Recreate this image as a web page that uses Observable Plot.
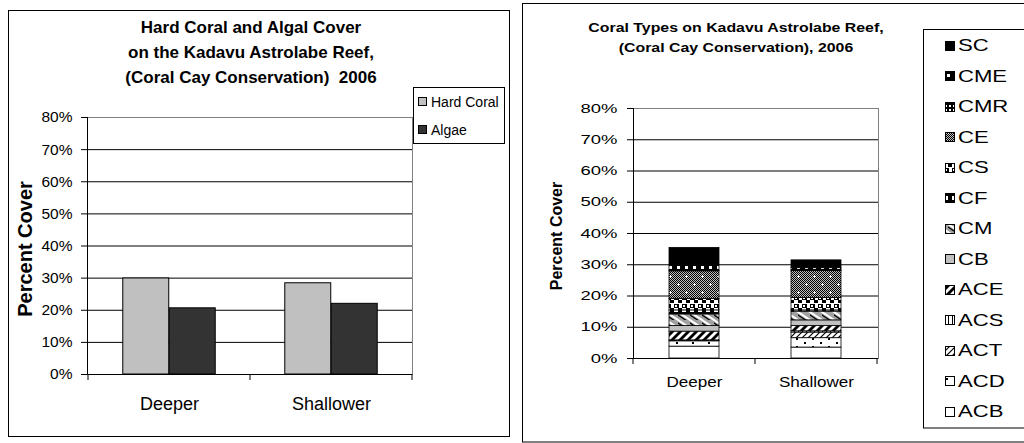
<!DOCTYPE html>
<html><head><meta charset="utf-8">
<script src="https://cdn.jsdelivr.net/npm/d3@7"></script>
<script src="https://cdn.jsdelivr.net/npm/@observablehq/plot@0.6"></script>
<style>
html,body{margin:0;padding:0;background:#fff;overflow:hidden;}
#page{position:relative;width:1024px;height:443px;overflow:hidden;font-family:"Liberation Sans",Arial,sans-serif;}
#page > svg{position:absolute;}
</style></head><body><div id="page"></div>
<script>
// ---------- data ----------
const sites = ["Deeper", "Shallower"];
const coverSeries = ["Hard Coral", "Algae"];
const hardCoral = [29.9, 28.4];
const algae = [20.6, 22.0];

const coralTypes = ["ACB","ACD","ACT","ACS","ACE","CB","CM","CF","CS","CE","CMR","CME","SC"];
const deeperCover    = [3.8, 1.7, 0.2, 0.1, 2.8, 1.8, 3.7, 1.3, 3.7, 8.8, 0.1, 1.9, 5.5];
const shallowerCover = [3.5, 3.0, 1.8, 0.4, 1.7, 1.8, 2.8, 0.4, 4.0, 8.6, 0.1, 0.8, 2.5];
const yTicks = [0, 10, 20, 30, 40, 50, 60, 70, 80];

const leftTitle = ["Hard Coral and Algal Cover", "on the Kadavu Astrolabe Reef,", "(Coral Cay Conservation)  2006"];
const rightTitle = ["Coral Types on Kadavu Astrolabe Reef,", "(Coral Cay Conservation), 2006"];
const yLabel = "Percent Cover";

const FONT = '"Liberation Sans", Arial, sans-serif';
const page = document.getElementById("page");

// ---------- overlay with pattern defs ----------
const ov = d3.create("svg").attr("width", 1024).attr("height", 443)
  .style("left", "0px").style("top", "0px").style("pointer-events", "none")
  .attr("font-family", FONT);
const defs = ov.append("defs");
function pat(id, w, h, draw) {
  const p = defs.append("pattern").attr("id", id).attr("patternUnits", "userSpaceOnUse")
    .attr("width", w).attr("height", h);
  draw(p);
}
const R = (p, x, y, w, h, f) => p.append("rect").attr("x", x).attr("y", y).attr("width", w).attr("height", h).attr("fill", f);
pat("checker2", 2, 2, p => { R(p,0,0,2,2,"#fff"); R(p,0,0,1,1,"#000"); R(p,1,1,1,1,"#000"); });
pat("pat-SC", 4, 4, p => R(p,0,0,4,4,"#000"));
pat("pat-CME", 8, 6, p => { R(p,0,0,8,6,"#000"); R(p,3,2,3,3,"#fff"); });
pat("pat-CMR", 4, 4, p => { R(p,0,0,4,4,"#000"); R(p,1,1,2,2,"#fff"); });
pat("pat-CE", 16, 16, p => { R(p,0,0,16,16,"url(#checker2)"); R(p,0,0,16,16,"rgba(0,0,0,0.25)");
  R(p,4,3,1,3,"#fff"); R(p,3,4,3,1,"#fff"); R(p,12,11,1,3,"#fff"); R(p,11,12,3,1,"#fff"); });
pat("pat-CS", 8, 8, p => { R(p,0,0,8,8,"#fff"); R(p,0,0,5,4,"#000"); R(p,4,4,4,3,"#000"); R(p,1,1,2,2,"#fff"); });
pat("pat-CF", 8, 8, p => { R(p,0,0,8,8,"#fff"); R(p,0,0,8,4,"#000"); R(p,4,4,4,4,"#000"); });
pat("pat-CM", 12, 8, p => { R(p,0,0,12,8,"#a0a0a0");
  p.append("path").attr("d","M-3,-2 L15,10 M-15,-2 L3,10 M9,-2 L27,10").attr("stroke","#fff").attr("stroke-width",2);
  p.append("path").attr("d","M-3,1 L15,13 M-3,-11 L15,1 M-15,1 L3,13").attr("stroke","#000").attr("stroke-width",1.2); });
pat("pat-CB", 4, 4, p => R(p,0,0,4,4,"#c0c0c0"));
pat("pat-ACE", 8, 8, p => { R(p,0,0,8,8,"#fff");
  p.append("path").attr("d","M0,8 L8,0 L8,4 L4,8 Z M0,0 L0,4 L4,0 Z").attr("fill","#000"); });
pat("pat-ACS", 4, 4, p => { R(p,0,0,4,4,"#fff"); R(p,0,0,1,4,"#000"); });
pat("pat-ACT", 6, 6, p => { R(p,0,0,6,6,"#fff");
  p.append("path").attr("d","M-1,1 L1,-1 M0,6 L6,0 M5,7 L7,5").attr("stroke","#000").attr("stroke-width",1.2); });
pat("pat-ACD", 16, 8, p => { R(p,0,0,16,8,"#fff"); R(p,2,2,2,2,"#000"); R(p,10,6,2,2,"#000"); });
pat("pat-ACB", 4, 4, p => R(p,0,0,4,4,"#fff"));

// ---------- left chart ----------
const leftData = sites.map((s, i) => ({site: s, hard: hardCoral[i], algae: algae[i]}));
const BW_L = (512 - 87 - 100) / sites.length;
const left = Plot.plot({
  width: 512, height: 443, marginLeft: 87, marginRight: 100, marginTop: 117, marginBottom: 69,
  style: {fontFamily: FONT, background: "transparent", overflow: "visible", color: "#000"},
  x: {domain: sites, padding: 0, label: null},
  y: {domain: [0, 80], label: null},
  marks: [
    Plot.frame({stroke: "#808080"}),
    Plot.gridY(yTicks.slice(1, -1), {stroke: "#000", strokeOpacity: 1}),
    Plot.barY(leftData, {x: "site", y: "hard", fill: "#c0c0c0", stroke: "#000", strokeWidth: 1,
      insetLeft: BW_L * 0.214, insetRight: BW_L * 0.5}),
    Plot.barY(leftData, {x: "site", y: "algae", fill: "#333333", stroke: "#000", strokeWidth: 1,
      insetLeft: BW_L * 0.5, insetRight: BW_L * 0.214}),
    Plot.ruleY([0], {stroke: "#000"}),
    Plot.frame({anchor: "left", stroke: "#000"}),
    Plot.axisY(yTicks, {tickFormat: d => d + "%", tickSize: 6, tickPadding: 9, fontSize: 15.5, label: null}),
    Plot.axisX({tickSize: 0, tickPadding: 23, fontSize: 18, label: null})
  ]
});
left.style.left = "0px"; left.style.top = "0px";
page.appendChild(left);

// ---------- right chart ----------
const rightData = [];
const bySite = [deeperCover, shallowerCover];
sites.forEach((s, i) => coralTypes.forEach((t, j) => rightData.push({site: s, type: t, value: bySite[i][j]})));
const right = Plot.plot({
  width: 400, height: 443, marginLeft: 111, marginRight: 44, marginTop: 108, marginBottom: 85,
  style: {fontFamily: FONT, background: "transparent", overflow: "visible", color: "#000"},
  x: {domain: sites, paddingInner: 0.59, paddingOuter: 0.295, label: null},
  y: {domain: [0, 80], label: null},
  color: {domain: coralTypes, range: coralTypes.map(t => `url(#pat-${t})`)},
  marks: [
    Plot.frame({stroke: "#808080"}),
    Plot.gridY(yTicks.slice(1, -1), {stroke: "#000", strokeOpacity: 1}),
    Plot.barY(rightData, {x: "site", y: "value", fill: "type", stroke: "#000", strokeWidth: 0.8}),
    Plot.ruleY([0], {stroke: "#000"}),
    Plot.frame({anchor: "left", stroke: "#000"}),
    Plot.axisY(yTicks, {tickFormat: d => d + "%", tickSize: 6, tickPadding: 10, fontSize: 13, label: null}),
    Plot.axisX({tickSize: 0, tickPadding: 18, fontSize: 15, label: null})
  ]
});
right.style.left = "522px"; right.style.top = "0px";
page.appendChild(right);

// category boundary ticks, from the plots' own scales
function boundaryTicks(plot) {
  const xs = plot.scale("x"), ys = plot.scale("y");
  const y0 = ys.apply(0);
  const edges = sites.map(s => xs.apply(s) - (xs.step - xs.bandwidth) / 2);
  edges.push(xs.apply(sites[sites.length - 1]) + xs.bandwidth + (xs.step - xs.bandwidth) / 2);
  const g = d3.select(plot).append("g").attr("stroke", "#000");
  edges.forEach(x => g.append("line").attr("x1", x).attr("x2", x).attr("y1", y0).attr("y2", y0 + 6));
}
boundaryTicks(left);
boundaryTicks(right);

// ---------- overlay decorations ----------
const box = (x, y, w, h) => ov.append("rect").attr("x", x).attr("y", y).attr("width", w).attr("height", h)
  .attr("fill", "none").attr("stroke", "#000").attr("stroke-width", 1);
box(8.5, 10.5, 501, 426);
box(522.5, 3.5, 520, 438.5);
box(413.5, 87.5, 91, 56);
box(923.5, 29.5, 120, 398.5);

leftTitle.forEach((t, i) => ov.append("text").attr("x", 251).attr("y", 33 + i * 25)
  .attr("text-anchor", "middle").attr("font-weight", "bold").attr("font-size", 17)
  .style("white-space", "pre").text(t));
ov.append("text").attr("transform", "translate(32,249) rotate(-90)").attr("text-anchor", "middle")
  .attr("font-weight", "bold").attr("font-size", 20).text(yLabel);

const legColors = ["#c0c0c0", "#333333"];
coverSeries.forEach((s, i) => {
  ov.append("rect").attr("x", 418.5).attr("y", 97.5 + i * 28).attr("width", 8).attr("height", 8)
    .attr("fill", legColors[i]).attr("stroke", "#000");
  ov.append("text").attr("x", 431).attr("y", 107 + i * 28).attr("font-size", 14).text(s);
});

const stretched = [];
rightTitle.forEach((t, i) => stretched.push([ov.append("text").attr("x", 736).attr("y", 31.5 + i * 20)
  .attr("text-anchor", "middle").attr("font-weight", "bold").attr("font-size", 13).text(t).node(), 1.22]));
ov.append("text").attr("transform", "translate(562,236) rotate(-90)").attr("text-anchor", "middle")
  .attr("font-weight", "bold").attr("font-size", 16).text(yLabel);

const legendOrder = coralTypes.slice().reverse();
legendOrder.forEach((t, i) => {
  const cy = 45 + i * 30.5;
  ov.append("rect").attr("x", 945.5).attr("y", Math.round(cy - 4.5) + 0.5).attr("width", 9).attr("height", 9)
    .attr("fill", `url(#pat-${t})`).attr("stroke", "#000");
  stretched.push([ov.append("text").attr("x", 958).attr("y", cy + 6).attr("font-size", 17).text(t).node(), 1.3]);
});

page.appendChild(ov.node());

d3.select(right).selectAll("text").each(function () {
  const t = this.textContent;
  stretched.push([this, /%$/.test(t) ? 1.42 : 1.14]);
});
stretched.forEach(([el, k]) => {
  const w = el.getComputedTextLength();
  if (w > 0) {
    el.setAttribute("textLength", w * k);
    el.setAttribute("lengthAdjust", "spacingAndGlyphs");
  }
});
</script></body></html>
